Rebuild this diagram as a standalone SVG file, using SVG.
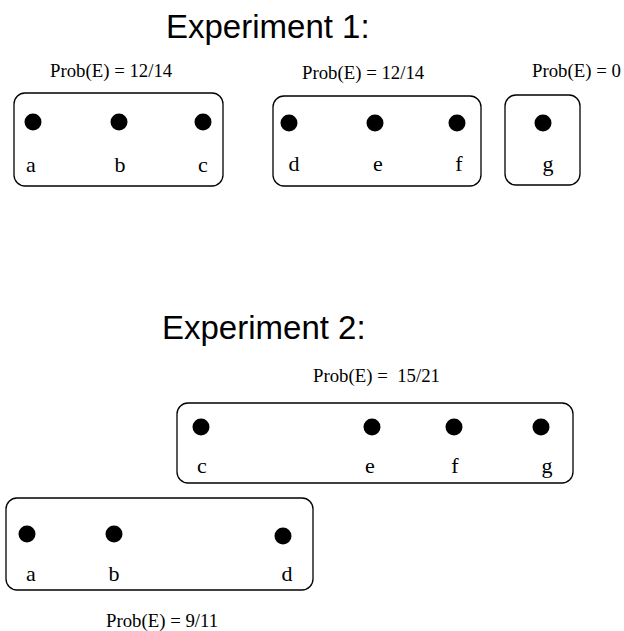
<svg xmlns="http://www.w3.org/2000/svg" width="624" height="631" viewBox="0 0 624 631">
<style>
.title{font-family:"Liberation Sans",Arial,sans-serif;font-size:33px;fill:#000}
.prob{font-family:"Liberation Serif","Times New Roman",serif;font-size:18.8px;fill:#000}
.lbl{font-family:"Liberation Serif","Times New Roman",serif;font-size:22px;fill:#000;text-anchor:middle}
.box{fill:none;stroke:#000;stroke-width:1.3}
.dot{fill:#000}
</style>
<rect width="624" height="631" fill="#fff"/>
<text class="title" x="166" y="38">Experiment 1:</text>
<text class="title" x="162" y="339">Experiment 2:</text>
<g id="set-abc">
<text class="prob" x="50" y="77">Prob(E) = 12/14</text>
<rect class="box" x="14" y="93" width="209" height="93" rx="11"/>
<circle class="dot" cx="33" cy="122" r="8.5"/><circle class="dot" cx="119" cy="122" r="8.5"/><circle class="dot" cx="203" cy="122" r="8.5"/>
<text class="lbl" x="31" y="172">a</text><text class="lbl" x="120" y="172">b</text><text class="lbl" x="203" y="172">c</text>
</g>
<g id="set-def">
<text class="prob" x="302" y="79">Prob(E) = 12/14</text>
<rect class="box" x="273" y="96" width="208" height="90" rx="11"/>
<circle class="dot" cx="289" cy="123" r="8.5"/><circle class="dot" cx="375" cy="123" r="8.5"/><circle class="dot" cx="457" cy="123" r="8.5"/>
<text class="lbl" x="294" y="171">d</text><text class="lbl" x="378" y="171">e</text><text class="lbl" x="459" y="171">f</text>
</g>
<g id="set-g">
<text class="prob" x="532" y="77">Prob(E) = 0</text>
<rect class="box" x="505" y="95" width="75" height="90" rx="11"/>
<circle class="dot" cx="543" cy="123" r="8.5"/>
<text class="lbl" x="548" y="171">g</text>
</g>
<g id="set-cefg">
<text class="prob" x="313" y="382" xml:space="preserve">Prob(E) =  15/21</text>
<rect class="box" x="177" y="403" width="396" height="80" rx="11"/>
<circle class="dot" cx="201" cy="427" r="8.5"/><circle class="dot" cx="372" cy="427" r="8.5"/><circle class="dot" cx="454" cy="427" r="8.5"/><circle class="dot" cx="541" cy="427" r="8.5"/>
<text class="lbl" x="202" y="473">c</text><text class="lbl" x="370" y="473">e</text><text class="lbl" x="455" y="473">f</text><text class="lbl" x="547" y="473">g</text>
</g>
<g id="set-abd">
<rect class="box" x="6" y="498" width="307" height="92" rx="11"/>
<circle class="dot" cx="27" cy="534" r="8.5"/><circle class="dot" cx="114" cy="534" r="8.5"/><circle class="dot" cx="283" cy="536" r="8.5"/>
<text class="lbl" x="31" y="581">a</text><text class="lbl" x="114" y="581">b</text><text class="lbl" x="287" y="581">d</text>
<text class="prob" x="106" y="627">Prob(E) = 9/11</text>
</g>
<g id="connectors"/>
</svg>
